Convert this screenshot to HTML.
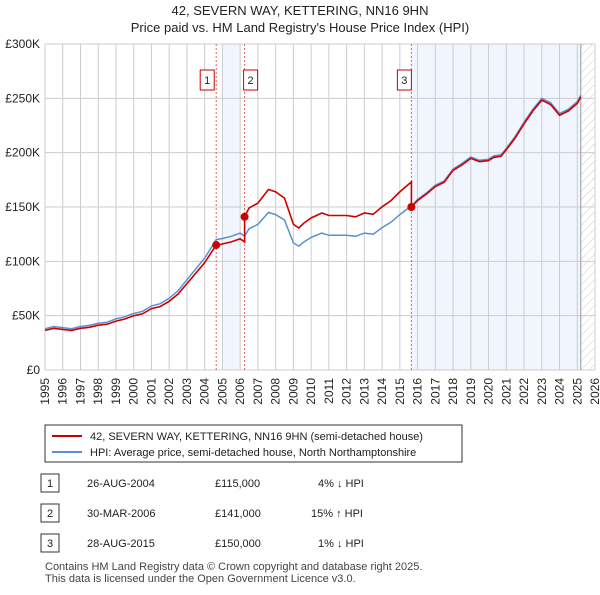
<!DOCTYPE html>
<html><head><meta charset="utf-8"><style>
body{margin:0;background:#fff;font-family:"Liberation Sans",sans-serif}
svg text{font-family:"Liberation Sans","DejaVu Sans",sans-serif}
</style></head><body>
<svg id="c" width="600" height="590" viewBox="0 0 600 590">
<defs><pattern id="hatch" width="6" height="6" patternUnits="userSpaceOnUse" patternTransform="rotate(45)"><line x1="0" y1="0" x2="0" y2="6" stroke="#ccc" stroke-width="1"/></pattern></defs>
<text x="300" y="15" text-anchor="middle" font-size="13" fill="#222">42, SEVERN WAY, KETTERING, NN16 9HN</text>
<text x="300" y="32" text-anchor="middle" font-size="13" fill="#222">Price paid vs. HM Land Registry's House Price Index (HPI)</text>
<g id="plot"></g>
<rect x="45" y="425" width="417" height="37" fill="#fff" stroke="#333"/>
<line x1="52" y1="436" x2="82" y2="436" stroke="#cc0000" stroke-width="2"/>
<text x="90" y="440" font-size="11" fill="#222">42, SEVERN WAY, KETTERING, NN16 9HN (semi-detached house)</text>
<line x1="52" y1="452" x2="82" y2="452" stroke="#5b8fd4" stroke-width="2"/>
<text x="90" y="456" font-size="11" fill="#222">HPI: Average price, semi-detached house, North Northamptonshire</text>
<g font-size="11" fill="#222">
<rect x="41" y="474" width="18" height="18" fill="#fff" stroke="#333"/><text x="50" y="487" text-anchor="middle">1</text>
<text x="87" y="487">26-AUG-2004</text><text x="215" y="487">£115,000</text><text x="318" y="487">4% ↓ HPI</text>
<rect x="41" y="504" width="18" height="18" fill="#fff" stroke="#333"/><text x="50" y="517" text-anchor="middle">2</text>
<text x="87" y="517">30-MAR-2006</text><text x="215" y="517">£141,000</text><text x="311" y="517">15% ↑ HPI</text>
<rect x="41" y="534" width="18" height="18" fill="#fff" stroke="#333"/><text x="50" y="547" text-anchor="middle">3</text>
<text x="87" y="547">28-AUG-2015</text><text x="215" y="547">£150,000</text><text x="318" y="547">1% ↓ HPI</text>
</g>
<text x="45" y="570" font-size="11" fill="#444">Contains HM Land Registry data © Crown copyright and database right 2025.</text>
<text x="45" y="582" font-size="11" fill="#444">This data is licensed under the Open Government Licence v3.0.</text>
</svg>
<script>
const hpiYears=[1995,1995.5,1996,1996.5,1997,1997.5,1998,1998.5,1999,1999.5,2000,2000.5,2001,2001.5,2002,2002.5,2003,2003.5,2004,2004.65,2005,2005.5,2006,2006.25,2006.5,2007,2007.6,2008,2008.5,2009,2009.3,2009.6,2010,2010.6,2011,2011.5,2012,2012.5,2013,2013.5,2014,2014.5,2015,2015.65,2016,2016.5,2017,2017.5,2018,2018.5,2019,2019.5,2020,2020.3,2020.7,2021,2021.5,2022,2022.5,2023,2023.5,2024,2024.5,2025,2025.2];
const hpiValues=[38,40,39,38,40,41,43,44,47,49,52,54,59,61,66,73,83,93,103,120,121,123,126,123,130,134,145,143,138,117,114,118,122,126,124,124,124,123,126,125,131,136,143,151,157,163,170,174,185,190,196,193,194,197,198,204,215,228,240,250,246,236,240,247,253];
const saleYears=[2004.65,2006.25,2015.65];
const salePrices=[115,141,150];
const saleLabels=["1","2","3"];
const yTicks=[0,50,100,150,200,250,300];
const yTickLabels=["£0","£50K","£100K","£150K","£200K","£250K","£300K"];
const xTicks=[1995,1996,1997,1998,1999,2000,2001,2002,2003,2004,2005,2006,2007,2008,2009,2010,2011,2012,2013,2014,2015,2016,2017,2018,2019,2020,2021,2022,2023,2024,2025,2026];
const X0=45,X1=595,Y0=370,Y1=44;
const xs=t=>X0+(t-1995)/(2026-1995)*(X1-X0);
const ys=v=>Y0-v/300*(Y0-Y1);
const NS="http://www.w3.org/2000/svg";
const g=document.getElementById('plot');
function mk(tag,attrs,parent){const e=document.createElementNS(NS,tag);for(const k in attrs)e.setAttribute(k,attrs[k]);(parent||g).appendChild(e);return e;}
function hpiAt(t){for(let i=0;i<hpiYears.length-1;i++){if(t>=hpiYears[i]&&t<=hpiYears[i+1]){const f=(t-hpiYears[i])/(hpiYears[i+1]-hpiYears[i]);return hpiValues[i]+f*(hpiValues[i+1]-hpiValues[i]);}}return hpiValues[hpiValues.length-1];}
let r=mk('rect',{x:xs(2005),y:Y1,width:xs(2006)-xs(2005),height:Y0-Y1,fill:'#eef3fc',opacity:0.8});

r=mk('rect',{x:xs(2015.65),y:Y1,width:xs(2025.2)-xs(2015.65),height:Y0-Y1,fill:'#eef3fc',opacity:0.8});

r=mk('rect',{x:xs(2025.2),y:Y1,width:X1-xs(2025.2),height:Y0-Y1,fill:'url(#hatch)'});

xTicks.forEach(t=>{const l=mk('line',{x1:xs(t),x2:xs(t),y1:Y1,y2:Y0,stroke:'#ccc'});
const tx=mk('text',{x:0,y:0,transform:`translate(${xs(t)+4},${Y0+8}) rotate(-90)`,'text-anchor':'end','font-size':12,fill:'#222'});tx.textContent=t;});
yTicks.forEach((v,i)=>{const l=mk('line',{x1:X0,x2:X1,y1:ys(v),y2:ys(v),stroke:'#ccc'});
const tx=mk('text',{x:40,y:ys(v)+4,'text-anchor':'end','font-size':12,fill:'#222'});tx.textContent=yTickLabels[i];});
let a=mk('line',{x1:xs(2025.2),x2:xs(2025.2),y1:Y1,y2:Y0,stroke:'#999'});
saleYears.forEach((t,i)=>{const l=mk('line',{x1:xs(t),x2:xs(t),y1:Y1,y2:Y0,stroke:'#e06060','stroke-dasharray':'2,2'});
const off=(i==1?6:(i==0?-9:-7));
const b=mk('rect',{x:xs(t)+off-7,y:70,width:14,height:20,fill:'#fff',stroke:'#cc0000'});
const tx=mk('text',{x:xs(t)+off,y:84,'text-anchor':'middle','font-size':11,fill:'#222'});tx.textContent=saleLabels[i];});
let d='';hpiYears.forEach((t,i)=>{d+=(i?'L':'M')+xs(t).toFixed(1)+','+ys(hpiValues[i]).toFixed(1);});
let p=mk('path',{d:d,fill:'none',stroke:'#5b8fd4','stroke-width':1.5});
d='';let first=true;
function seg(t0,t1,k){const pts=[t0].concat(hpiYears.filter(t=>t>t0&&t<t1),[t1]);pts.forEach(t=>{const v=salePrices[k]*hpiAt(t)/hpiAt(saleYears[k]);d+=(first?'M':'L')+xs(t).toFixed(1)+','+ys(v).toFixed(1);first=false;});}
seg(1995,saleYears[0],0);seg(saleYears[0],saleYears[1],0);seg(saleYears[1],saleYears[2],1);seg(saleYears[2],2025.2,2);
p=mk('path',{d:d,fill:'none',stroke:'#cc0000','stroke-width':1.6});
saleYears.forEach((t,i)=>{const c=mk('circle',{cx:xs(t),cy:ys(salePrices[i]),r:4,fill:'#cc0000'});});
</script>
</body></html>
